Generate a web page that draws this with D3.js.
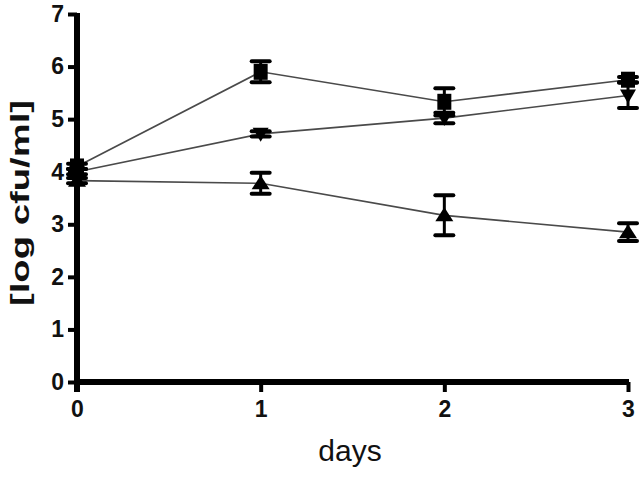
<html>
<head>
<script src="https://d3js.org/d3.v7.min.js"></script>
<style>
body { margin: 0; background: #fff; }
.tick text { font-family: "Liberation Sans", Arial, sans-serif; font-weight: bold; font-size: 23px; fill: #111; }
</style>
</head>
<body>
<svg class="chart" width="642" height="478"></svg>
<script>
// data
const days = [0, 1, 2, 3];
const squareVals   = [4.10, 5.90, 5.33, 5.75];
const squareErr    = [0.05, 0.20, 0.26, 0.05];
const downTriVals  = [4.00, 4.72, 5.02, 5.45];
const downTriErr   = [0.05, 0.05, 0.10, 0.24];
const upTriVals    = [3.83, 3.78, 3.17, 2.85];
const upTriErr     = [0.05, 0.20, 0.38, 0.17];
const yTicks = [0, 1, 2, 3, 4, 5, 6, 7];
const xTicks = [0, 1, 2, 3];

const svg = d3.select(".chart");
const x = d3.scaleLinear().domain([0, 3]).range([77, 628]);
const y = d3.scaleLinear().domain([0, 7]).range([382, 14]);

// series table built from the arrays
const series = [
  { shape: "square", vals: squareVals, err: squareErr },
  { shape: "down", vals: downTriVals, err: downTriErr },
  { shape: "up", vals: upTriVals, err: upTriErr }
];

// connecting lines
const line = d3.line().x((d, i) => x(days[i])).y(d => y(d));
series.forEach(s => {
  svg.append("path")
    .attr("d", line(s.vals))
    .attr("fill", "none")
    .attr("stroke", "#4a4a4a")
    .attr("stroke-width", 1.6);
});

// error bars
series.forEach(s => {
  const g = svg.append("g").attr("stroke", "#000");
  s.vals.forEach((v, i) => {
    const cx = x(days[i]);
    const top = y(v + s.err[i]), bot = y(v - s.err[i]);
    g.append("line").attr("x1", cx).attr("x2", cx).attr("y1", top).attr("y2", bot).attr("stroke-width", 3);
    [top, bot].forEach(yy => {
      g.append("line").attr("x1", cx - 9).attr("x2", cx + 9).attr("y1", yy).attr("y2", yy)
        .attr("stroke-width", 4).attr("stroke-linecap", "round");
    });
  });
});

// markers
function markerPath(shape) {
  if (shape === "square") return "M-7,-8H7V8H-7Z";
  if (shape === "down") return "M-8,-6H8L0,8Z";
  return "M0,-8L9,6H-9Z";
}
series.forEach(s => {
  svg.append("g").selectAll("path")
    .data(s.vals)
    .join("path")
    .attr("transform", (d, i) => `translate(${x(days[i])},${y(d)})`)
    .attr("d", markerPath(s.shape))
    .attr("fill", "#000");
});

// axes
const yAxis = svg.append("g")
  .attr("transform", "translate(77,0)")
  .call(d3.axisLeft(y).tickValues(yTicks).tickFormat(d3.format("d")).tickSize(9).tickSizeOuter(0).tickPadding(4));
yAxis.select(".domain").remove();
yAxis.selectAll(".tick line").attr("stroke", "#000").attr("stroke-width", 4);

const xAxis = svg.append("g")
  .attr("transform", "translate(0,382)")
  .call(d3.axisBottom(x).tickValues(xTicks).tickFormat(d3.format("d")).tickSize(10).tickSizeOuter(0).tickPadding(9));
xAxis.select(".domain").remove();
xAxis.selectAll(".tick line").attr("stroke", "#000").attr("stroke-width", 4);

svg.append("line")
  .attr("x1", x(0)).attr("x2", x(0))
  .attr("y1", y(7) - 1).attr("y2", y(0) + 10)
  .attr("stroke", "#000").attr("stroke-width", 6);
svg.append("line")
  .attr("x1", x(0)).attr("x2", x(3) + 1)
  .attr("y1", y(0)).attr("y2", y(0))
  .attr("stroke", "#000").attr("stroke-width", 6);

// axis titles
svg.append("text")
  .attr("x", 350).attr("y", 461)
  .attr("text-anchor", "middle")
  .attr("font-family", "Liberation Sans, Arial, sans-serif")
  .attr("font-size", 30)
  .attr("fill", "#111")
  .text("days");

svg.append("text")
  .attr("transform", "translate(29,203) rotate(-90)")
  .attr("text-anchor", "middle")
  .attr("font-family", "Liberation Sans, Arial, sans-serif")
  .attr("font-weight", "bold")
  .attr("font-size", 25)
  .attr("textLength", 206)
  .attr("lengthAdjust", "spacingAndGlyphs")
  .attr("fill", "#111")
  .text("[log cfu/ml]");
</script>
</body>
</html>
